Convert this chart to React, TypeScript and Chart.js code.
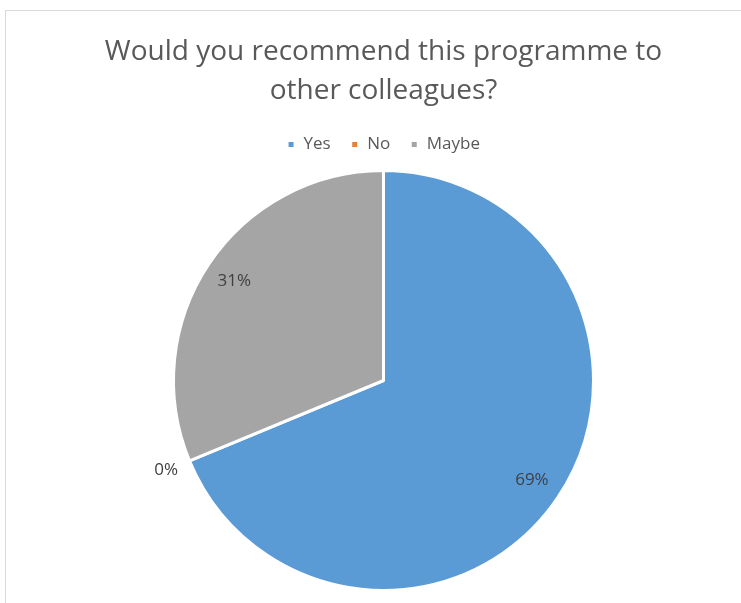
import React, { useEffect, useRef } from "react";
import { Chart, registerables } from "chart.js";

Chart.register(...registerables);

const categories = ["Yes", "No", "Maybe"];
const responses = [11, 0, 5];
const sliceColors = ["#5B9BD5", "#ED7D31", "#A5A5A5"];
const labelRadiusFactor = [0.85, 1.12, 0.855];
const titleLines = ["Would you recommend this programme to", "other colleagues?"];

const FONT = "'Open Sans', 'Noto Sans', sans-serif";

const percentLabels = {
  id: "percentLabels",
  afterDatasetsDraw(chart: any) {
    const ctx = chart.ctx;
    const meta = chart.getDatasetMeta(0);
    const data = chart.data.datasets[0].data as number[];
    const total = data.reduce((a, b) => a + b, 0);
    ctx.save();
    ctx.font = `17px ${FONT}`;
    ctx.fillStyle = "#404040";
    ctx.textAlign = "center";
    ctx.textBaseline = "middle";
    meta.data.forEach((arc: any, i: number) => {
      const p = arc.getProps(["x", "y", "startAngle", "endAngle", "outerRadius"], true);
      const mid = (p.startAngle + p.endAngle) / 2;
      const r = p.outerRadius * labelRadiusFactor[i];
      const pct = Math.round((data[i] / total) * 100);
      ctx.fillText(`${pct}%`, p.x + Math.cos(mid) * r, p.y + Math.sin(mid) * r);
    });
    ctx.restore();
  },
};

const legendSpacing = {
  id: "legendSpacing",
  beforeUpdate(chart: any) {
    const legend = chart.legend;
    if (!legend || legend._spacingPatched) return;
    const orig = legend.fit;
    legend.fit = function () {
      orig.call(legend);
      legend.height += 6;
    };
    legend._spacingPatched = true;
  },
};

export default function App() {
  const ref = useRef<HTMLCanvasElement | null>(null);
  useEffect(() => {
    if (!ref.current) return;
    const chart = new Chart(ref.current, {
      type: "pie",
      data: {
        labels: categories,
        datasets: [
          {
            data: responses,
            backgroundColor: sliceColors,
            borderColor: "#ffffff",
            borderWidth: 3,
          },
        ],
      },
      options: {
        responsive: false,
        animation: false,
        layout: { padding: { left: 26, right: 0, top: 0, bottom: 11 } },
        plugins: {
          title: {
            display: true,
            text: titleLines,
            color: "#595959",
            font: { family: FONT, size: 28, weight: "normal", lineHeight: 1.393 },
            padding: { top: 33, bottom: 5 },
          },
          legend: {
            display: true,
            position: "top",
            labels: {
              color: "#595959",
              font: { family: FONT, size: 17 },
              boxWidth: 8,
              boxHeight: 8,
              padding: 20,
            },
          },
          tooltip: { enabled: false },
        },
      },
      plugins: [percentLabels, legendSpacing],
    });
    return () => chart.destroy();
  }, []);

  return (
    <div
      style={{
        position: "fixed",
        left: 0,
        top: 0,
        width: 741,
        height: 603,
        overflow: "hidden",
        background: "#ffffff",
      }}
    >
      <div
        style={{
          position: "absolute",
          left: 5,
          top: 10,
          width: 800,
          height: 700,
          borderLeft: "1px solid #d9d9d9",
          borderTop: "1px solid #d9d9d9",
        }}
      />
      <canvas
        ref={ref}
        width={741}
        height={603}
        style={{ position: "absolute", left: 0, top: 0, width: 741, height: 603 }}
      />
    </div>
  );
}
